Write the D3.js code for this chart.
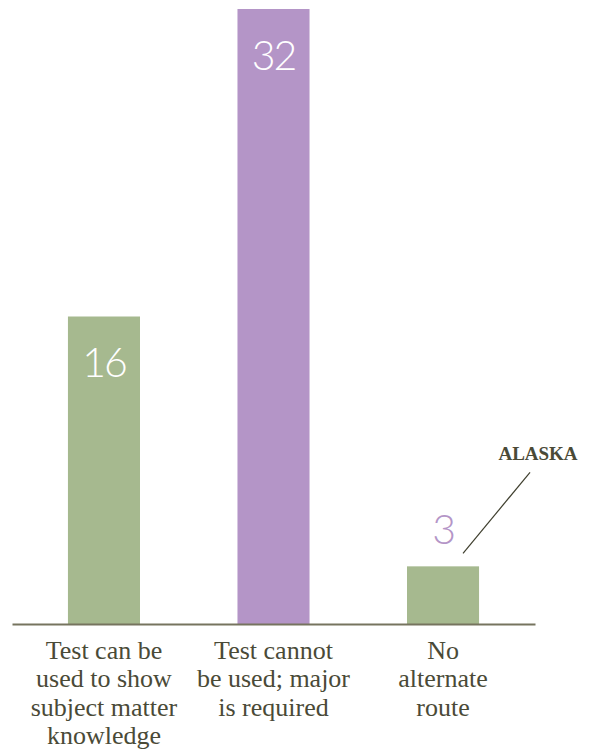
<!DOCTYPE html>
<html>
<head>
<meta charset="utf-8">
<script src="https://cdn.jsdelivr.net/npm/d3@7"></script>
<style>
  html, body { margin: 0; padding: 0; background: #ffffff; }
  svg { display: block; }
</style>
</head>
<body>
<svg id="chart" width="590" height="751"></svg>
<script>
const categories = ["alt1", "alt2", "alt3"];
const categoryLabels = [
  ["Test can be", "used to show", "subject matter", "knowledge"],
  ["Test cannot", "be used; major", "is required"],
  ["No", "alternate", "route"]
];
const values = [16, 32, 3];
const barColors = ["#a6b98f", "#b495c7", "#a6b98f"];
const calloutState = "ALASKA";
const calloutIndex = 2;

const svg = d3.select("#chart");
const baseY = 624;

const x = d3.scaleBand()
  .domain(categories)
  .range([12, 535])
  .paddingInner(0.575)
  .paddingOuter(0.33);

const y = d3.scaleLinear()
  .domain([0, 32])
  .range([baseY, 9]);

const textColor = "#4a4a37";
const serif = "'Liberation Serif', 'Times New Roman', Times, serif";

// bars
svg.selectAll("rect.bar")
  .data(values)
  .join("rect")
  .attr("class", "bar")
  .attr("x", (d, i) => x(categories[i]))
  .attr("width", x.bandwidth())
  .attr("y", d => y(d))
  .attr("height", d => y(0) - y(d))
  .attr("fill", (d, i) => barColors[i]);

// baseline axis
const axis = d3.axisBottom(x).tickSize(0).tickFormat("");
const axisG = svg.append("g").attr("transform", `translate(0,${baseY})`).call(axis);
axisG.select(".domain").attr("stroke", "#76745f").attr("stroke-width", 2);

// value labels
const numFont = "Lato, 'Open Sans', sans-serif";
svg.selectAll("text.val")
  .data(values)
  .join("text")
  .attr("class", "val")
  .attr("x", (d, i) => x(categories[i]) + x.bandwidth() / 2)
  .attr("y", (d, i) => i === calloutIndex ? y(d) - 22 : y(d) + 60.5)
  .attr("text-anchor", "middle")
  .attr("font-family", numFont)
  .attr("font-weight", 300)
  .attr("font-size", 41)
  .attr("letter-spacing", -2)
  .attr("fill", (d, i) => i === calloutIndex ? barColors[1] : "#ffffff")
  .text(d => d);

// category labels
const lab = svg.selectAll("text.cat")
  .data(categoryLabels)
  .join("text")
  .attr("class", "cat")
  .attr("text-anchor", "middle")
  .style("font-family", serif)
  .attr("font-size", 26)
  .attr("fill", textColor);
lab.selectAll("tspan")
  .data((d, i) => d.map(t => ({ t, i })))
  .join("tspan")
  .attr("x", d => x(categories[d.i]) + x.bandwidth() / 2)
  .attr("y", (d, j) => 659 + j * 28.3)
  .text(d => d.t);

// callout
const cx = x(categories[calloutIndex]) + x.bandwidth() / 2;
svg.append("line")
  .attr("x1", cx + 20).attr("y1", y(values[calloutIndex]) - 13)
  .attr("x2", cx + 87).attr("y2", y(values[calloutIndex]) - 94)
  .attr("stroke", "#3f3f2e")
  .attr("stroke-width", 1.2);
svg.append("text")
  .attr("x", 538)
  .attr("y", 460)
  .attr("text-anchor", "middle")
  .style("font-family", serif)
  .attr("font-weight", "bold")
  .attr("font-size", 19)
  .attr("fill", textColor)
  .text(calloutState);
</script>
</body>
</html>
